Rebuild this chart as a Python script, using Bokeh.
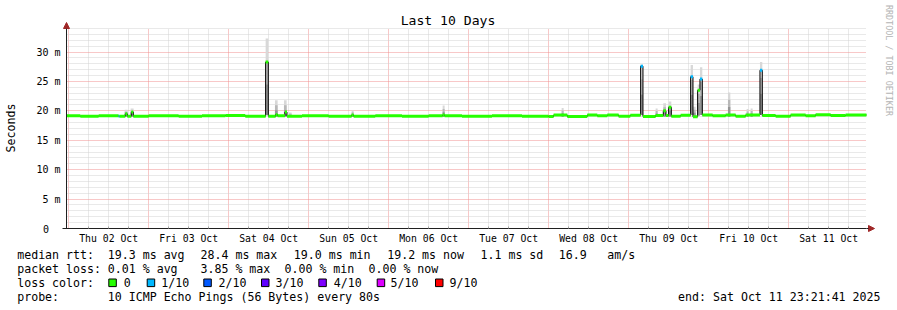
import math
from bokeh.plotting import figure
from bokeh.models import (Range1d, FixedTicker, Label, BoxAnnotation, Arrow,
                          NormalHead, ColumnDataSource, LinearAxis, Grid)
from bokeh.embed import file_html
from bokeh.resources import INLINE

MONO = "DejaVu Sans Mono"

# ---------------- data ----------------
title_text = "Last 10 Days"
y_title = "Seconds"
side_text = "RRDTOOL / TOBI OETIKER"
day_labels = ["Thu 02 Oct", "Fri 03 Oct", "Sat 04 Oct", "Sun 05 Oct", "Mon 06 Oct",
              "Tue 07 Oct", "Wed 08 Oct", "Thu 09 Oct", "Fri 10 Oct", "Sat 11 Oct"]
y_ticks_ms = [0, 5, 10, 15, 20, 25, 30]
y_tick_labels = ["0", "5 m", "10 m", "15 m", "20 m", "25 m", "30 m"]

# time axis: hours since Thu 02 Oct 00:00
t_start = -0.64
t_end = 239.36
y_max = 34

# median rtt (ms) as steps: start hour, value, loss class
med_h = [-0.64, 3.5, 9.0, 15.0, 15.3, 17.0, 17.6, 18.8, 19.4, 24.0, 33.0, 40.0, 47.0, 53.0,
         59.1, 59.9, 62.1, 62.7, 64.9, 65.5, 70.0, 78.0, 84.9, 85.5, 92.0, 100.0, 108.0,
         112.2, 112.8, 118.0, 127.0, 136.0,
         144.0, 145.5, 149.6, 155.6, 158.6, 161.6, 165.0, 168.5, 171.6, 172.3, 176.1,
         178.4, 179.2, 180.0, 180.8, 183.6, 186.6, 187.3, 188.7, 189.4, 190.1, 193.2,
         197.1, 200.1, 203.1, 207.4, 208.1, 212.1, 216.6, 221.1, 224.1, 228.6, 233.1]
med_ms = [19.15, 19.1, 19.15, 19.1, 19.1, 19.5, 19.1, 19.8, 19.1, 19.15, 19.1, 19.15, 19.2, 19.1,
          28.3, 19.1, 19.35, 19.15, 19.8, 19.1, 19.15, 19.1, 19.3, 19.1, 19.15, 19.1, 19.15,
          19.3, 19.15, 19.1, 19.15, 19.1,
          19.05, 19.3, 19.05, 19.3, 19.15, 19.3, 19.1, 19.25, 27.6, 19.05, 19.2,
          20.0, 19.2, 20.6, 19.1, 19.25, 25.8, 19.0, 23.5, 25.4, 19.3, 19.15,
          19.3, 19.1, 19.3, 26.9, 19.2, 19.1, 19.3, 19.15, 19.35, 19.2, 19.3]
med_loss = [0, 0, 0, 1, 0, 0, 0, 0, 0, 0, 0, 0, 0, 0,
            0, 0, 0, 0, 0, 0, 0, 0, 0, 0, 0, 0, 0,
            0, 0, 0, 0, 0,
            0, 0, 0, 0, 0, 0, 0, 0, 1, 0, 0,
            0, 0, 0, 0, 0, 1, 0, 0, 1, 0, 0,
            0, 0, 0, 1, 0, 0, 0, 0, 0, 0, 0]

# smoke (spread of the 10 pings) where visible: start hour, end hour, min ms, max ms
smoke_h0 = [16.8, 18.6, 59.1, 61.9, 64.6, 66.1, 84.9, 112.2, 147.9, 171.6, 176.1, 178.4,
            180.0, 186.6, 187.3, 188.7, 189.4, 197.8, 203.4, 204.6, 207.4]
smoke_h1 = [17.7, 19.5, 59.9, 62.7, 65.4, 66.9, 85.5, 112.8, 148.5, 172.3, 176.7, 179.2,
            180.8, 187.3, 188.1, 189.4, 190.1, 198.5, 204.0, 205.2, 208.1]
smoke_lo = [19.0, 19.0, 19.3, 19.0, 19.0, 19.0, 19.0, 19.0, 19.0, 19.3, 19.0, 19.0,
            19.0, 19.3, 19.0, 19.2, 19.3, 19.0, 19.0, 19.0, 19.3]
smoke_hi = [20.2, 20.4, 32.3, 21.8, 21.8, 19.7, 20.1, 20.9, 20.5, 27.9, 20.4, 21.3,
            21.6, 27.8, 20.7, 24.5, 27.4, 23.1, 20.3, 20.4, 28.3]

loss_names = ["0", "1/10", "2/10", "3/10", "4/10", "5/10", "9/10"]
loss_colors = ["#26ff00", "#00b8ff", "#0059ff", "#5e00ff", "#7e00ff", "#dd00ff", "#ff0000"]

rtt_stats = ["19.3 ms avg", "28.4 ms max", "19.0 ms min", "19.2 ms now", "1.1 ms sd", "16.9", "am/s"]
loss_stats = ["0.01 % avg", "3.85 % max", "0.00 % min", "0.00 % now"]
probe_text = "10 ICMP Echo Pings (56 Bytes) every 80s"
end_text = "end: Sat Oct 11 23:21:41 2025"

# ---------------- layout (pixels) ----------------
W, H = 897, 310
FL, FR, FT, FB = 66, 866, 28, 228          # plot area inside the canvas
hpp = (t_end - t_start) / (FR - FL)          # hours per pixel
mpp = y_max / (FB - FT)                      # ms per pixel

p = figure(width=W, height=H, title=None, output_backend="svg", toolbar_location=None,
           x_axis_location=None, y_axis_location=None,
           x_range=Range1d(t_start - FL * hpp, t_start + (W - FL) * hpp),
           y_range=Range1d(-(H - FB) * mpp, FB * mpp),
           min_border_left=0, min_border_right=0, min_border_top=0, min_border_bottom=0)
p.outline_line_color = None
p.background_fill_color = "#ffffff"
p.border_fill_color = "#ffffff"
for g in list(p.xgrid) + list(p.ygrid):
    g.visible = False

# ---- grids (limited to the plot area) ----
noons = [12 + 24 * k for k in range(10)]
midnights = [24 * k for k in range(10)]
six_h = [6 * k for k in range(0, 40) if (6 * k) % 24 != 0]
minor_ms = [v for v in range(0, y_max + 1) if v % 5 != 0]

xgrid = Grid(dimension=0, ticker=FixedTicker(ticks=midnights, minor_ticks=six_h),
             bounds=(t_start, t_end), cross_bounds=(0, y_max))
ygrid = Grid(dimension=1, ticker=FixedTicker(ticks=y_ticks_ms, minor_ticks=minor_ms),
             bounds=(0, y_max), cross_bounds=(t_start, t_end))
for g in (xgrid, ygrid):
    g.grid_line_color = "#f09090"
    g.grid_line_dash = "1 1"
    g.grid_line_width = 1
    g.minor_grid_line_color = "#d2d2d2"
    g.minor_grid_line_dash = "1 1"
    g.minor_grid_line_width = 1
    p.add_layout(g, "center")

# ---- axes ----
xa = LinearAxis(fixed_location=0, bounds=(t_start - 1.3, t_end),
                ticker=FixedTicker(ticks=noons, minor_ticks=six_h))
xa.major_label_overrides = {t: lab for t, lab in zip(noons, day_labels)}
xa.major_tick_in = 0
xa.major_tick_out = 0
xa.minor_tick_in = 2
xa.minor_tick_out = 0
xa.minor_tick_line_color = "#a0a0a0"
xa.axis_line_color = "#202020"
xa.major_label_text_font = MONO
xa.major_label_text_font_size = "9.8px"
xa.major_label_standoff = 4
xa.major_label_text_color = "#000000"
p.add_layout(xa, "below")

# the "0" label is drawn by hand below (rrdtool pads it to the unit column)
ya = LinearAxis(fixed_location=t_start, bounds=(0, y_max),
                ticker=FixedTicker(ticks=y_ticks_ms, minor_ticks=minor_ms))
ya.major_label_overrides = {t: (lab if t != 0 else "") for t, lab in zip(y_ticks_ms, y_tick_labels)}
ya.major_tick_in = 0
ya.major_tick_out = 0
ya.minor_tick_in = 0
ya.minor_tick_out = 0
ya.axis_line_color = "#202020"
ya.major_label_text_font = MONO
ya.major_label_text_font_size = "10px"
ya.major_label_standoff = 6
ya.major_label_text_color = "#000000"
p.add_layout(ya, "left")
p.add_layout(Label(x=42.5, y=y_ticks_ms[0], x_units="screen", y_units="data",
                   text=y_tick_labels[0], text_font=MONO, text_font_size="10px",
                   text_align="left", text_baseline="middle", text_color="#000000"))

# ---- smoke ----
band_frac = [1.0, 0.7, 0.4]
band_col = ["#d8d8d8", "#b8b8b8", "#959595"]
for frac, col in zip(band_frac, band_col):
    src = ColumnDataSource(dict(
        left=smoke_h0, right=smoke_h1, bottom=smoke_lo,
        top=[lo + frac * (hi - lo) for lo, hi in zip(smoke_lo, smoke_hi)]))
    p.quad(left="left", right="right", bottom="bottom", top="top", source=src,
           fill_color=col, line_color=None)

# ---- median: black step line plus loss-coloured line ----
step_x = med_h + [t_end]
step_y = med_ms + [med_ms[-1]]
p.step(step_x, step_y, mode="after", line_color="#000000", line_width=1)

seg = ColumnDataSource(dict(
    x0=med_h, x1=med_h[1:] + [t_end], y=med_ms,
    c=[loss_colors[i] for i in med_loss]))
p.segment(x0="x0", x1="x1", y0="y", y1="y", source=seg, line_color="c", line_width=3)

# ---- axis arrows ----
arrow_col = "#a02828"
p.add_layout(Arrow(x_start=t_start, y_start=y_max, x_end=t_start, y_end=y_max + 6 * mpp,
                   line_color="#202020", line_width=1,
                   end=NormalHead(size=6, fill_color=arrow_col, line_color=arrow_col)))
p.add_layout(Arrow(x_start=t_end, y_start=0, x_end=t_end + 8 * hpp, y_end=0,
                   line_color="#202020", line_width=1,
                   end=NormalHead(size=6, fill_color=arrow_col, line_color=arrow_col)))


# ---- texts around the plot (positions in canvas pixels, from top-left) ----
def add_text(txt, px, py, size="11.6px", align="left", angle=0.0, color="#000000"):
    p.add_layout(Label(x=px, y=H - py, x_units="screen", y_units="screen",
                       text=txt, text_font=MONO, text_font_size=size,
                       text_align=align, text_baseline="middle", angle=angle,
                       text_color=color))


add_text(title_text, 447.5, 20, size="13.1px", align="center")
add_text(y_title, 10, 127.5, size="11.6px", align="center", angle=math.pi / 2)
add_text(side_text, 888, 60, size="8.4px", align="center", angle=-math.pi / 2, color="#b4b4b4")

row_y = [254.3, 268.3, 282.3, 296.7]
label_x = 16.7
add_text("median rtt:", label_x, row_y[0])
for txt, px in zip(rtt_stats, [107.3, 200, 293.3, 386.7, 480, 558.3, 606.7]):
    add_text(txt, px, row_y[0])
add_text("packet loss:", label_x, row_y[1])
for txt, px in zip(loss_stats, [107.3, 200, 284, 368]):
    add_text(txt, px, row_y[1])
add_text("loss color:", label_x, row_y[2])
box_x = [108.3, 146.7, 203.3, 261.0, 318.3, 376.7, 435.0]
text_x = [123.3, 160.7, 218.0, 275.0, 333.3, 390.0, 449.0]
for name, col, bx, tx in zip(loss_names, loss_colors, box_x, text_x):
    p.add_layout(BoxAnnotation(left=bx, right=bx + 7.5,
                               top=H - (row_y[2] - 3.8), bottom=H - (row_y[2] + 3.8),
                               left_units="screen", right_units="screen",
                               top_units="screen", bottom_units="screen",
                               fill_color=col, fill_alpha=1.0,
                               line_color="#000000", line_width=1, line_alpha=1.0))
    add_text(name, tx, row_y[2])
add_text("probe:", label_x, row_y[3])
add_text(probe_text, 107.3, row_y[3])
add_text(end_text, 880, row_y[3], align="right")

open("out.html", "w").write(file_html(p, INLINE))
